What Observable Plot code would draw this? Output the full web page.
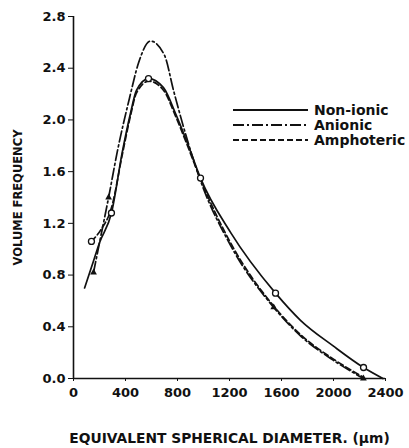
<!DOCTYPE html>
<html>
<head>
<meta charset="utf-8">
<script src="https://cdn.jsdelivr.net/npm/d3@7"></script>
<script src="https://cdn.jsdelivr.net/npm/@observablehq/plot@0.6"></script>
<style>
  html, body { margin: 0; padding: 0; background: #fff; }
  #wrap { position: relative; width: 409px; height: 448px; }
  #wrap svg { font-family: "DejaVu Sans", sans-serif; font-weight: bold; }
</style>
</head>
<body>
<div id="wrap"></div>
<script>
// ---- data ----
const seriesNames = ["Non-ionic", "Anionic", "Amphoteric"];

const nonionicX = [85, 138, 200, 292, 377, 438, 485, 577, 692, 785, 877, 977, 1208, 1554, 1746, 2000, 2231, 2380];
const nonionicY = [0.70, 0.86, 1.05, 1.28, 1.76, 2.05, 2.23, 2.32, 2.25, 2.05, 1.82, 1.55, 1.13, 0.66, 0.45, 0.25, 0.085, 0.0];

const anionicX = [154, 210, 270, 338, 431, 500, 592, 700, 769, 877, 977, 1208, 1540, 1746, 2000, 2230];
const anionicY = [0.82, 1.10, 1.40, 1.76, 2.17, 2.44, 2.61, 2.50, 2.23, 1.84, 1.53, 1.03, 0.55, 0.33, 0.14, 0.0];

const amphotericX = [138, 210, 292, 377, 438, 485, 580, 692, 785, 877, 977, 1208, 1540, 1746, 2000, 2230];
const amphotericY = [1.06, 1.15, 1.32, 1.74, 2.03, 2.21, 2.30, 2.23, 2.03, 1.80, 1.54, 1.05, 0.56, 0.34, 0.15, 0.01];

const circleX = [138, 292, 577, 977, 1554, 2231];
const circleY = [1.06, 1.28, 2.32, 1.55, 0.66, 0.085];

const triX = [154, 270, 1540, 2230];
const triY = [0.82, 1.40, 0.55, 0.0];

const xTicks = [0, 400, 800, 1200, 1600, 2000, 2400];
const yTicks = [0.0, 0.4, 0.8, 1.2, 1.6, 2.0, 2.4, 2.8];

const xLabel = "EQUIVALENT SPHERICAL DIAMETER. (\u03bcm)";
const yLabel = "VOLUME FREQUENCY";

// ---- build tables ----
const zip = (xs, ys, s) => xs.map((x, i) => ({x, y: ys[i], s}));
const nonionic = zip(nonionicX, nonionicY, seriesNames[0]);
const anionic = zip(anionicX, anionicY, seriesNames[1]);
const amphoteric = zip(amphotericX, amphotericY, seriesNames[2]);
const circles = zip(circleX, circleY);
const tris = zip(triX, triY);

const dashes = { "Non-ionic": null, "Anionic": "11,3,2,3", "Amphoteric": "6,3" };

const lineOpts = (dash) => ({x: "x", y: "y", stroke: "#111", strokeWidth: 1.7, curve: "monotone-x", strokeDasharray: dash});

const chart = Plot.plot({
  width: 409,
  height: 448,
  marginLeft: 73,
  marginRight: 24,
  marginTop: 16,
  marginBottom: 70,
  style: { background: "#fff", color: "#111", fontSize: "13px", fontFamily: "DejaVu Sans, sans-serif" },
  x: { domain: [0, 2400], ticks: xTicks },
  y: { domain: [0, 2.8], ticks: yTicks },
  marks: [
    Plot.axisX({ticks: xTicks, tickSize: 3, tickPadding: 6, tickFormat: d => String(d), fontSize: 13, fontWeight: "bold",
      label: xLabel, labelAnchor: "center", labelOffset: 64, labelArrow: "none"}),
    Plot.axisY({ticks: yTicks, tickSize: 5, tickPadding: 3, tickFormat: d => d.toFixed(1), fontSize: 13, fontWeight: "bold",
      label: yLabel, labelAnchor: "center", labelOffset: 60, labelArrow: "none"}),
    Plot.ruleY([0], {x1: 0, x2: 2400, stroke: "#111", strokeWidth: 1.6}),
    Plot.ruleX([0], {y1: 0, y2: 2.8, stroke: "#111", strokeWidth: 1.6}),
    Plot.line(nonionic, lineOpts(dashes["Non-ionic"])),
    Plot.line(anionic, lineOpts(dashes["Anionic"])),
    Plot.line(amphoteric, lineOpts(dashes["Amphoteric"])),
    Plot.dot(tris, {x: "x", y: "y", symbol: "triangle", r: 2.5, fill: "#111", stroke: "none"}),
    Plot.dot(circles, {x: "x", y: "y", r: 3, fill: "#fff", stroke: "#111", strokeWidth: 1.3})
  ]
});

// label sizes
d3.select(chart).selectAll('g[aria-label="y-axis label"]').attr("font-size", 11.5);
d3.select(chart).selectAll('g[aria-label="x-axis label"]').attr("font-size", 13.8);

const wrap = document.getElementById("wrap");
wrap.appendChild(chart);

// ---- legend overlay ----
const leg = d3.select(wrap).append("svg")
  .attr("width", 409).attr("height", 448)
  .style("position", "absolute").style("left", 0).style("top", 0)
  .style("pointer-events", "none");
const legY0 = 110, legDy = 15;
seriesNames.forEach((name, i) => {
  const y = legY0 + i * legDy;
  leg.append("line").attr("x1", 233).attr("x2", 308).attr("y1", y).attr("y2", y)
    .attr("stroke", "#111").attr("stroke-width", 1.8)
    .attr("stroke-dasharray", dashes[name]);
  leg.append("text").attr("x", 314).attr("y", y).attr("dy", "0.36em")
    .attr("font-family", "DejaVu Sans, sans-serif").attr("font-weight", "bold")
    .attr("font-size", 14).attr("fill", "#111").text(name);
});
</script>
</body>
</html>
